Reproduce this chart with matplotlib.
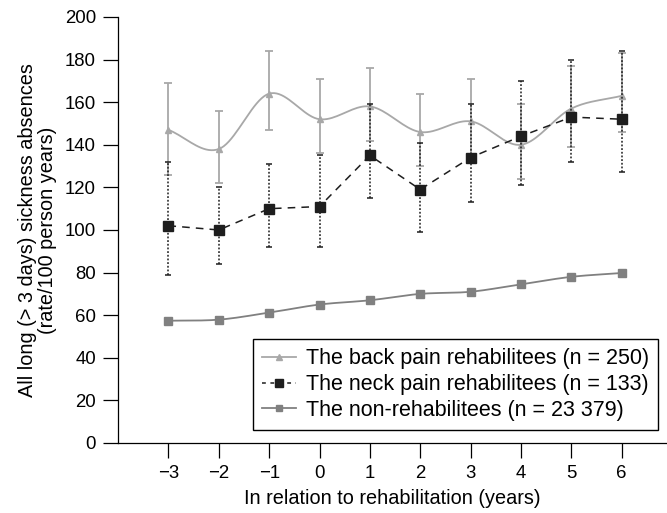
"""Long sickness absences around rehabilitation, by group."""

import matplotlib
matplotlib.use("Agg")
import matplotlib.pyplot as plt
import numpy as np
from matplotlib.lines import Line2D

plt.rcParams["font.family"] = ["Liberation Sans", "DejaVu Sans"]

years = [-3, -2, -1, 0, 1, 2, 3, 4, 5, 6]

back_rate = [147, 138, 164, 152, 158, 146, 151, 140, 157, 163]
back_low = [126, 122, 147, 136, 142, 130, 134, 124, 139, 146]
back_high = [169, 156, 184, 171, 176, 164, 171, 159, 177, 183]

neck_rate = [102, 100, 110, 111, 135, 119, 134, 144, 153, 152]
neck_low = [79, 84, 92, 92, 115, 99, 113, 121, 132, 127]
neck_high = [132, 120, 131, 135, 159, 141, 159, 170, 180, 184]

non_rate = [57.4, 57.9, 61.2, 65, 67, 70, 71, 74.5, 78, 79.8]

labels = [
    "The back pain rehabilitees (n = 250)",
    "The neck pain rehabilitees (n = 133)",
    "The non-rehabilitees (n = 23 379)",
]

BACK = "#a8a8a8"
NECK = "#1e1e1e"
NON = "#808080"


def smooth(x, y, n=20):
    """Catmull-Rom curve through the points (line only)."""
    x = np.asarray(x, float)
    y = np.asarray(y, float)
    px = np.concatenate([[2 * x[0] - x[1]], x, [2 * x[-1] - x[-2]]])
    py = np.concatenate([[2 * y[0] - y[1]], y, [2 * y[-1] - y[-2]]])
    t = np.linspace(0, 1, n, endpoint=False)
    xs, ys = [], []
    for i in range(1, len(px) - 2):
        for p, out in ((px, xs), (py, ys)):
            p0, p1, p2, p3 = p[i - 1], p[i], p[i + 1], p[i + 2]
            out.extend(0.5 * (2 * p1 + (-p0 + p2) * t
                              + (2 * p0 - 5 * p1 + 4 * p2 - p3) * t ** 2
                              + (-p0 + 3 * p1 - 3 * p2 + p3) * t ** 3))
    xs.append(x[-1])
    ys.append(y[-1])
    return np.array(xs), np.array(ys)


fig = plt.figure(figsize=(6.67, 5.13), dpi=100)
ax = fig.add_axes([0.177, 0.1365, 0.823, 0.8304])

yr = np.array(years)

# back pain: grey smooth line, solid error bars
b = np.array(back_rate)
ax.errorbar(yr, b, yerr=[b - np.array(back_low), np.array(back_high) - b],
            fmt="none", ecolor=BACK, elinewidth=1.3, capsize=3, capthick=1.3)
sx, sy = smooth(yr, b)
ax.plot(sx, sy, color=BACK, lw=1.3)
ax.plot(yr, b, "^", color=BACK, ms=5, ls="none")

# non-rehabilitees
nx, ny = smooth(yr, non_rate)
ax.plot(nx, ny, color=NON, lw=1.3)
ax.plot(yr, non_rate, "s", color=NON, ms=5.5, ls="none")

# neck pain: dashed line, dotted error bars
n = np.array(neck_rate)
eb = ax.errorbar(yr, n, yerr=[n - np.array(neck_low), np.array(neck_high) - n],
                 fmt="none", ecolor=NECK, elinewidth=1.1, capsize=2, capthick=1.1)
eb[2][0].set_linestyle((0, (1.2, 1.2)))
ax.plot(yr, n, color=NECK, lw=1.1, ls=(0, (5, 4)), marker="s", ms=6.5)

ax.set_xlim(-4.0, 6.9)
ax.set_ylim(0, 200)
ax.set_xticks(years)
ax.set_xticklabels([f"\u2212{-v}" if v < 0 else str(v) for v in years])
ax.set_yticks(range(0, 201, 20))
ax.tick_params(axis="both", length=10.8, width=0.9, labelsize=13.4, pad=5)
ax.spines[["top", "right"]].set_visible(False)
for s in ("left", "bottom"):
    ax.spines[s].set_linewidth(0.9)

ax.set_xlabel("In relation to rehabilitation (years)", fontsize=14.3, labelpad=5)
ax.set_ylabel("All long (> 3 days) sickness absences\n(rate/100 person years)",
              fontsize=14.3, labelpad=6, linespacing=1.05)

handles = [
    Line2D([], [], color=BACK, lw=1.3, marker="^", ms=4.5),
    Line2D([], [], color=NECK, lw=1.1, ls=(0, (2.5, 3)), marker="s", ms=5.5),
    Line2D([], [], color=NON, lw=1.3, marker="s", ms=4.5),
]
leg = ax.legend(handles, labels, loc="lower right",
                bbox_to_anchor=(0.984, 0.0305), borderaxespad=0,
                fontsize=15.5, frameon=True, fancybox=False, edgecolor="black",
                framealpha=1, handlelength=1.6, borderpad=0.42, labelspacing=0.22,
                handletextpad=0.45)
leg.get_frame().set_linewidth(1)

fig.savefig("out.png", dpi=100)
